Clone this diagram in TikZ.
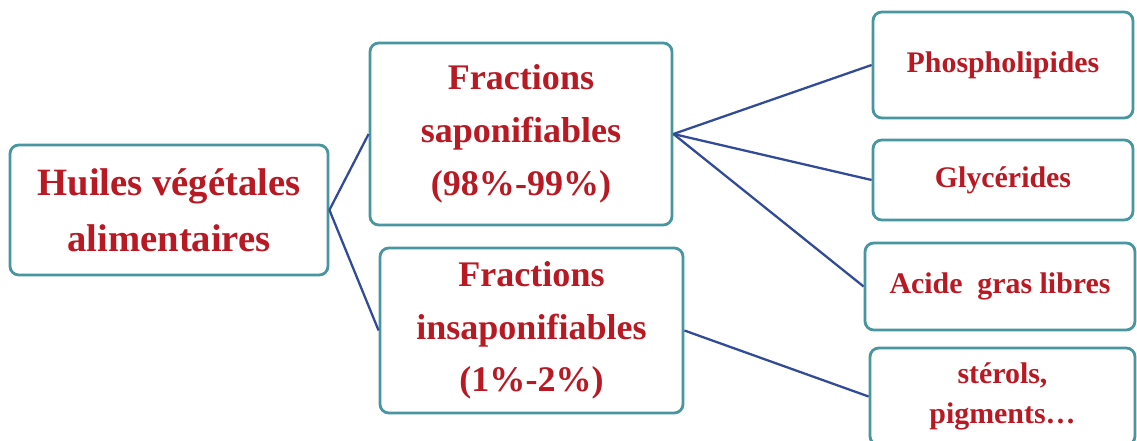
\documentclass[tikz,border=0pt]{standalone}
\usepackage{fontspec}
\setmainfont{Liberation Serif}
\definecolor{boxline}{RGB}{72,150,160}
\definecolor{txtred}{RGB}{185,25,35}
\definecolor{linkblue}{RGB}{50,75,150}
\tikzset{box/.style = {shape=rectangle, draw=boxline, line width=1.6pt, rounded corners=5pt, fill=white, align=center, inner sep=0pt, text=txtred, font=\bfseries}}
\tikzset{link/.style = {draw=linkblue, line width=1.3pt}}

\begin{document}
\begin{tikzpicture}[
			every node/.style = box
		]
		\useasboundingbox (0,0) rectangle (22.74,-8.8);
		% Nodes
		\node[minimum width=6.36cm, minimum height=2.6cm, font=\bfseries\fontsize{22}{32}\selectfont]
		      (huile) at ( 3.38, -4.20) {Huiles végétales\\alimentaires};
		\node[minimum width=6.04cm, minimum height=3.64cm, font=\bfseries\fontsize{20.5}{30}\selectfont]
		        (sap) at (10.42, -2.68) {Fractions\\saponifiables\\(98\%-99\%)};
		\node[minimum width=6.06cm, minimum height=3.3cm, font=\bfseries\fontsize{20.5}{30}\selectfont]
		      (insap) at (10.63, -6.61) {Fractions\\insaponifiables\\(1\%-2\%)};
		\node[minimum width=5.2cm, minimum height=2.12cm, font=\bfseries\fontsize{17}{24}\selectfont]
		      (phos) at (20.06, -1.30) {Phospholipides};
		\node[minimum width=5.2cm, minimum height=1.6cm, font=\bfseries\fontsize{17}{24}\selectfont]
		      (glyc) at (20.06, -3.60) {Glycérides};
		\node[minimum width=5.4cm, minimum height=1.74cm, font=\bfseries\fontsize{17}{24}\selectfont]
		     (acide) at (20.00, -5.73) {Acide\ \ gras libres};
		\node[minimum width=5.3cm, minimum height=1.94cm, font=\bfseries\fontsize{17}{23}\selectfont]
		   (sterols) at (20.05, -7.93) {stérols,\\pigments…};
		% Links
		\foreach \from/\to in {huile/sap, huile/insap, sap/phos, sap/glyc, sap/acide, insap/sterols}
			\draw [link] (\from.east) -- (\to.west);
		\end{tikzpicture}
\end{document}
